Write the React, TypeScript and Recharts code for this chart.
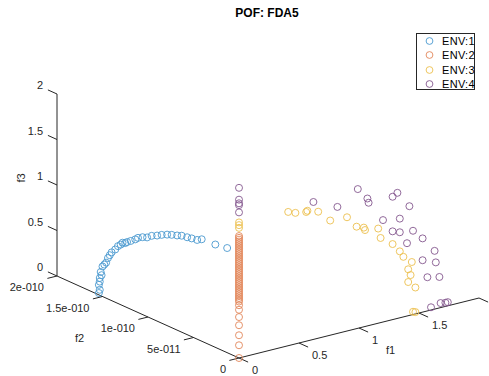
import { ScatterChart, Scatter, XAxis, YAxis, ReferenceLine } from 'recharts';

// points as [f1, f2, f3]
const env1 = [
    [0, 1.54e-10, 0.02], [0, 1.53e-10, 0.06], [0, 1.54e-10, 0.11], [0, 1.53e-10, 0.15],
    [0, 1.53e-10, 0.19], [0, 1.51e-10, 0.23], [0, 1.52e-10, 0.26], [0, 1.50e-10, 0.33],
    [0, 1.48e-10, 0.36], [0, 1.46e-10, 0.39], [0, 1.44e-10, 0.45], [0, 1.42e-10, 0.49],
    [0, 1.40e-10, 0.53], [0, 1.36e-10, 0.58], [0, 1.33e-10, 0.63], [0, 1.30e-10, 0.66],
    [0, 1.28e-10, 0.69], [0, 1.25e-10, 0.70], [0, 1.23e-10, 0.72], [0, 1.19e-10, 0.75],
    [0, 1.14e-10, 0.79], [0, 1.11e-10, 0.82], [0, 1.06e-10, 0.85], [0, 1.01e-10, 0.87],
    [0, 0.96e-10, 0.91], [0, 0.90e-10, 0.94], [0, 0.85e-10, 0.97], [0, 0.79e-10, 1.0],
    [0, 0.74e-10, 1.02], [0, 0.68e-10, 1.04], [0, 0.63e-10, 1.06], [0, 0.57e-10, 1.07],
    [0, 0.52e-10, 1.08], [0, 0.46e-10, 1.09], [0, 0.41e-10, 1.12], [0, 0.26e-10, 1.13],
    [0, 0.13e-10, 1.15],
];
const env2 = [
    [0, 0, 0], [0, 0, 0.14], [0, 0, 0.25], [0, 0, 0.36], [0, 0, 0.45], [0, 0, 0.53],
    [0, 0, 0.58], [0, 0, 0.62], [0, 0, 0.64], [0, 0, 0.66], [0, 0, 0.68], [0, 0, 0.7],
    [0, 0, 0.72], [0, 0, 0.74], [0, 0, 0.76], [0, 0, 0.78], [0, 0, 0.8], [0, 0, 0.82],
    [0, 0, 0.84], [0, 0, 0.86], [0, 0, 0.88], [0, 0, 0.9], [0, 0, 0.92], [0, 0, 0.94],
    [0, 0, 0.96], [0, 0, 0.98], [0, 0, 1.0], [0, 0, 1.02], [0, 0, 1.04], [0, 0, 1.06],
    [0, 0, 1.08], [0, 0, 1.1], [0, 0, 1.12], [0, 0, 1.14], [0, 0, 1.16], [0, 0, 1.18],
    [0, 0, 1.2], [0, 0, 1.22], [0, 0, 1.24], [0, 0, 1.26], [0, 0, 1.28], [0, 0, 1.3],
    [0, 0, 1.32], [0, 0, 1.34],
];
const env3 = [
    [0, 0, 1.49], [0, 0, 1.46], [0, 0, 1.43],
    [0.41, 0, 1.47], [0.47, 0, 1.44], [0.56, 0, 1.42], [0.57, 0, 1.43], [0.66, 0, 1.39],
    [0.76, 0, 1.26], [0.9, 0, 1.25], [0.98, 0, 1.12], [1.04, 0, 1.09], [1.05, 0, 1.06],
    [1.16, 0, 1.04], [1.18, 0, 0.93], [1.28, 0, 0.83], [1.34, 0, 0.73], [1.37, 0, 0.66],
    [1.44, 0, 0.58], [1.41, 0, 0.51], [1.43, 0, 0.44], [1.41, 0, 0.37], [1.47, 0, 0.29],
    [1.47, 0, 0.02], [1.45, 0, 0.03],
];
const env4 = [
    [0, 0, 1.87], [0, 0, 1.74], [0, 0, 1.7], [0, 0, 1.68], [0, 0, 1.6],
    [0.62, 0, 1.51], [0.82, 0, 1.39], [0.99, 0, 1.53], [1.07, 0, 1.4], [1.08, 0, 1.35],
    [1.28, 0, 1.35], [1.32, 0, 1.38], [1.42, 0, 1.2], [1.2, 0, 1.12], [1.34, 0, 1.09],
    [1.28, 0, 0.97], [1.34, 0, 0.94], [1.45, 0, 0.92], [1.4, 0, 0.8], [1.53, 0, 0.81],
    [1.63, 0, 0.64], [1.53, 0, 0.57], [1.64, 0, 0.51], [1.57, 0, 0.37], [1.67, 0, 0.34],
    [1.6, 0, 0.03], [1.68, 0, 0.05], [1.72, 0, 0.04], [1.74, 0, 0.04],
];

const seriesNames = ['ENV:1', 'ENV:2', 'ENV:3', 'ENV:4'];
const seriesColors = ['#4a98cf', '#e2875a', '#ecbf4e', '#85588f'];

const f1Ticks = [0, 0.5, 1, 1.5, 2];
const f1TickLabels = ['0', '0.5', '1', '1.5', ''];
const f2Ticks = [0, 5e-11, 1e-10, 1.5e-10, 2e-10];
const f2TickLabels = ['0', '5e-011', '1e-010', '1.5e-010', '2e-010'];
const f3Ticks = [0, 0.5, 1, 1.5, 2];
const f3TickLabels = ['0', '0.5', '1', '1.5', '2'];

// view of the 3-D box (screen units per data unit)
const proj = (f1: number, f2: number, f3: number) => ({
    x: 239 + 120 * f1 - 91 * (f2 / 1e-10),
    y: 358 - 30 * f1 - 41 * (f2 / 1e-10) - 91 * f3,
});

const AXIS = '#262626';
const FONT = '"Liberation Sans", Arial, sans-serif';

const ring = (color: string) => (p: any) => (
    <circle cx={p.cx} cy={p.cy} r={3.5} fill="none" stroke={color} strokeWidth={0.9} />
);

const tickText = (dx: number, dy: number, anchor: string) => (p: any) => (
    <text
        x={p.cx + dx}
        y={p.cy + dy}
        textAnchor={anchor}
        dominantBaseline="central"
        fontSize={11}
        fontFamily={FONT}
        fill={AXIS}
    >
        {p.payload?.label}
    </text>
);

const seg = (a: number[], b: number[]) => [proj(a[0], a[1], a[2]), proj(b[0], b[1], b[2])];

export default function App() {
    const envs = [env1, env2, env3, env4];
    return (
        <div style={{ position: 'relative', width: 489, height: 376, background: '#fff', fontFamily: FONT }}>
            <style>{'body{margin:0}'}</style>
            <ScatterChart width={489} height={376} margin={{ top: 0, right: 0, bottom: 0, left: 0 }}>
                <XAxis type="number" dataKey="x" domain={[0, 489]} hide allowDataOverflow />
                <YAxis type="number" dataKey="y" domain={[0, 376]} reversed hide allowDataOverflow />

                {/* box axes */}
                <ReferenceLine segment={seg([0, 0, 0], [2, 0, 0])} stroke={AXIS} ifOverflow="visible" />
                <ReferenceLine segment={seg([0, 0, 0], [0, 2e-10, 0])} stroke={AXIS} ifOverflow="visible" />
                <ReferenceLine segment={seg([0, 2e-10, 0], [0, 2e-10, 2])} stroke={AXIS} ifOverflow="visible" />
                {f1Ticks.map((t) => (
                    <ReferenceLine key={'t1' + t} segment={seg([t, 0, 0], [t, -0.1e-10, 0])} stroke={AXIS} ifOverflow="visible" />
                ))}
                {f2Ticks.map((t) => (
                    <ReferenceLine key={'t2' + t} segment={seg([0, t, 0], [-0.08, t, 0])} stroke={AXIS} ifOverflow="visible" />
                ))}
                {f3Ticks.map((t) => (
                    <ReferenceLine key={'t3' + t} segment={seg([0, 2e-10, t], [0, 2.1e-10, t])} stroke={AXIS} ifOverflow="visible" />
                ))}

                <Scatter
                    data={f1Ticks.map((t, i) => ({ ...proj(t, 0, 0), label: f1TickLabels[i] }))}
                    shape={tickText(13, 12, 'start')}
                    isAnimationActive={false}
                />
                <Scatter
                    data={f2Ticks.map((t, i) => ({ ...proj(0, t, 0), label: f2TickLabels[i] }))}
                    shape={tickText(-13, 11, 'end')}
                    isAnimationActive={false}
                />
                <Scatter
                    data={f3Ticks.map((t, i) => ({ ...proj(0, 2e-10, t), label: f3TickLabels[i] }))}
                    shape={tickText(-14, -9, 'end')}
                    isAnimationActive={false}
                />

                {envs.map((env, i) => (
                    <Scatter
                        key={seriesNames[i]}
                        name={seriesNames[i]}
                        data={env.map(([a, b, c]) => proj(a, b, c))}
                        shape={ring(seriesColors[i])}
                        isAnimationActive={false}
                    />
                ))}
            </ScatterChart>

            <div style={{ position: 'absolute', left: 0, width: 534, top: 6, textAlign: 'center', fontSize: 12, fontWeight: 'bold', color: '#000' }}>
                POF: FDA5
            </div>
            <div style={{ position: 'absolute', left: 386, top: 344, fontSize: 11, color: AXIS }}>f1</div>
            <div style={{ position: 'absolute', left: 75, top: 332, fontSize: 11, color: AXIS }}>f2</div>
            <div style={{ position: 'absolute', left: 16, top: 172, fontSize: 11, color: AXIS, transform: 'rotate(-90deg)' }}>f3</div>

            <div
                style={{
                    position: 'absolute', left: 416, top: 33, width: 57, height: 55,
                    border: '1px solid #262626', background: '#fff', fontSize: 11, color: '#000',
                }}
            >
                {seriesNames.map((n, i) => (
                    <div key={n} style={{ position: 'absolute', top: i * 14.3, left: 0, height: 14, lineHeight: '14px', whiteSpace: 'nowrap' }}>
                        <svg width={14} height={14} style={{ position: 'absolute', left: 5, top: 0 }}>
                            <circle cx={7.5} cy={7} r={3.4} fill="none" stroke={seriesColors[i]} strokeWidth={0.9} />
                        </svg>
                        <span style={{ position: 'absolute', left: 25, top: 0, letterSpacing: 0.3 }}>{n}</span>
                    </div>
                ))}
            </div>
        </div>
    );
}
